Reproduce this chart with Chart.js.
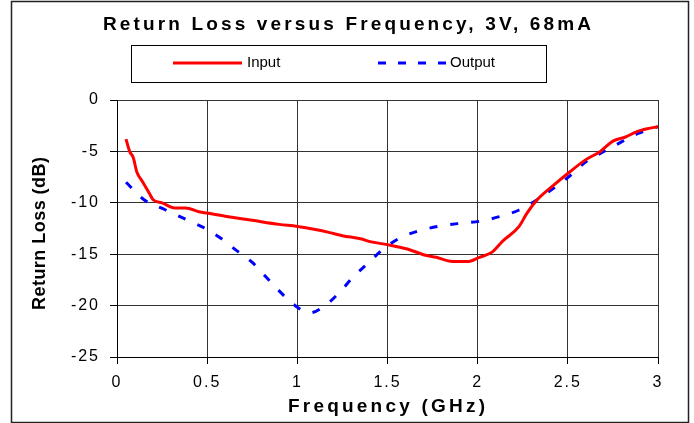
<!DOCTYPE html>
<html>
<head>
<meta charset="utf-8">
<script src="https://cdn.jsdelivr.net/npm/chart.js@4/dist/chart.umd.min.js"></script>
<style>
  html, body { margin: 0; padding: 0; background: #fff; }
  #wrap { width: 694px; height: 423px; }
</style>
</head>
<body>
<div id="wrap"><canvas id="rl-chart" width="694" height="423"></canvas></div>
<script>
// Input return loss (red, solid)
const inputFreq = [0.05, 0.07, 0.09, 0.11, 0.14, 0.18, 0.20, 0.25, 0.32, 0.38, 0.46, 0.50, 0.60, 0.75, 0.90,
  1.00, 1.10, 1.18, 1.25, 1.35, 1.41, 1.51, 1.61, 1.71, 1.77, 1.86, 1.95, 2.01, 2.08, 2.14, 2.23, 2.27,
  2.33, 2.42, 2.51, 2.60, 2.68, 2.75, 2.82, 2.88, 2.94, 3.00];
const inputLoss = [-3.8, -5.0, -5.6, -7.0, -7.9, -9.1, -9.7, -10.0, -10.5, -10.5, -10.9, -11.0, -11.3, -11.7, -12.1,
  -12.3, -12.6, -12.9, -13.2, -13.5, -13.8, -14.1, -14.5, -15.1, -15.3, -15.7, -15.7, -15.3, -14.8, -13.7, -12.3, -11.1,
  -9.7, -8.3, -7.0, -5.8, -5.0, -4.0, -3.6, -3.1, -2.8, -2.6];

// Output return loss (blue, dashed)
const outputFreq = [0.05, 0.15, 0.27, 0.38, 0.49, 0.58, 0.66, 0.75, 0.82, 0.89, 0.98, 1.07, 1.16, 1.24, 1.31,
  1.39, 1.47, 1.56, 1.66, 1.78, 1.90, 2.01, 2.12, 2.23, 2.33, 2.42, 2.51, 2.60, 2.68, 2.79, 2.89, 3.00];
const outputLoss = [-8.0, -9.7, -10.7, -11.6, -12.5, -13.5, -14.6, -15.8, -17.1, -18.4, -19.9, -20.7, -19.9, -18.6, -17.2,
  -15.9, -14.6, -13.5, -12.8, -12.3, -12.0, -11.8, -11.35, -10.7, -9.7, -8.6, -7.4, -6.0, -5.2, -4.15, -3.25, -2.6];

const xTicks = [0, 0.5, 1, 1.5, 2, 2.5, 3];
const yTicks = [0, -5, -10, -15, -20, -25];

const FONT = "'Liberation Sans', Arial, sans-serif";

// draw text stretched out to a given width (the original uses wide letter spacing)
function spaced(ctx, text, font, left, baseline, width) {
  ctx.font = font;
  ctx.letterSpacing = '0px';
  const w = ctx.measureText(text).width;
  ctx.letterSpacing = ((width - w) / (text.length - 1)) + 'px';
  ctx.textAlign = 'left';
  ctx.textBaseline = 'alphabetic';
  ctx.fillText(text, left, baseline);
  ctx.letterSpacing = '0px';
}

const decor = {
  id: 'decor',
  beforeDraw(chart) {
    const ctx = chart.ctx;
    ctx.save();
    ctx.fillStyle = '#fff';
    ctx.fillRect(0, 0, chart.width, chart.height);
    ctx.restore();
    // tick labels are spaced out a little
    ctx.letterSpacing = '2px';
  },
  afterDraw(chart) {
    const ctx = chart.ctx;
    ctx.letterSpacing = '0px';
    ctx.save();
    ctx.fillStyle = '#000';

    // title
    spaced(ctx, 'Return Loss versus Frequency, 3V, 68mA', 'bold 19px ' + FONT, 103, 30, 488);

    // x axis title
    spaced(ctx, 'Frequency (GHz)', 'bold 19px ' + FONT, 288, 412, 197);

    // y axis title
    ctx.save();
    ctx.translate(45, 310);
    ctx.rotate(-Math.PI / 2);
    spaced(ctx, 'Return Loss (dB)', 'bold 18px ' + FONT, 0, 0, 153);
    ctx.restore();

    // legend box
    ctx.strokeStyle = '#000';
    ctx.lineWidth = 1;
    ctx.strokeRect(131.5, 45.5, 415, 37);

    ctx.lineWidth = 3;
    ctx.strokeStyle = '#ff0000';
    ctx.beginPath();
    ctx.moveTo(173, 63);
    ctx.lineTo(242, 63);
    ctx.stroke();

    ctx.strokeStyle = '#0000ff';
    ctx.setLineDash([8, 12]);
    ctx.beginPath();
    ctx.moveTo(378, 63);
    ctx.lineTo(447, 63);
    ctx.stroke();
    ctx.setLineDash([]);

    ctx.font = '15px ' + FONT;
    ctx.textAlign = 'left';
    ctx.textBaseline = 'middle';
    ctx.fillText('Input', 247, 63);
    ctx.fillText('Output', 450, 63);

    // outer frame
    ctx.lineWidth = 1.5;
    ctx.strokeStyle = '#222';
    ctx.strokeRect(11.5, 1.5, 677, 421);
    ctx.restore();
  }
};

new Chart(document.getElementById('rl-chart'), {
  type: 'line',
  data: {
    datasets: [
      {
        label: 'Input',
        data: inputFreq.map((f, i) => ({ x: f, y: inputLoss[i] })),
        borderColor: '#ff0000',
        borderWidth: 3,
        pointRadius: 0,
        cubicInterpolationMode: 'monotone',
        fill: false
      },
      {
        label: 'Output',
        data: outputFreq.map((f, i) => ({ x: f, y: outputLoss[i] })),
        borderColor: '#0000ff',
        borderWidth: 3,
        borderDash: [8, 13],
        pointRadius: 0,
        cubicInterpolationMode: 'monotone',
        fill: false
      }
    ]
  },
  options: {
    responsive: false,
    animation: false,
    devicePixelRatio: 1,
    layout: { padding: { left: 0, top: 100, right: 36, bottom: 0 } },
    plugins: {
      legend: { display: false },
      title: { display: false },
      tooltip: { enabled: false }
    },
    scales: {
      x: {
        type: 'linear',
        min: 0,
        max: 3,
        afterFit: s => { s.height = 66; },
        afterBuildTicks: s => { s.ticks = xTicks.map(v => ({ value: v })); },
        grid: { color: '#333', lineWidth: 1, tickLength: 7, tickColor: '#000' },
        border: { color: '#000', width: 1 },
        ticks: {
          color: '#000', font: { family: FONT, size: 16 }, padding: 9, maxRotation: 0,
          callback: v => String(v)
        }
      },
      y: {
        min: -25,
        max: 0,
        afterFit: s => { s.width = 117; },
        afterBuildTicks: s => { s.ticks = yTicks.map(v => ({ value: v })); },
        grid: { color: '#333', lineWidth: 1, tickLength: 7, tickColor: '#000' },
        border: { color: '#000', width: 1 },
        ticks: { color: '#000', font: { family: FONT, size: 16 }, padding: 10, callback: v => String(v) }
      }
    }
  },
  plugins: [decor]
});
</script>
</body>
</html>
